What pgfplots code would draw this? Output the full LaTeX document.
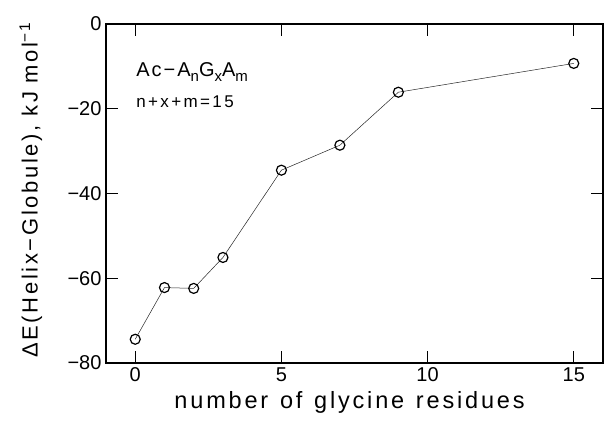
\documentclass[border=0pt]{standalone}
\usepackage{fontspec}
\setmainfont{Liberation Sans}
\newfontfamily\spaced[LetterSpace=12]{Liberation Sans}
\newfontfamily\spacedb[LetterSpace=10]{Liberation Sans}
\newfontfamily\spacedc[LetterSpace=14]{Liberation Sans}
\newcommand{\sub}[1]{\raisebox{-0.22em}{\fontsize{15}{15}\selectfont #1}}
\usepackage{pgfplots}
\pgfplotsset{compat=1.18}
\begin{document}
\begin{tikzpicture}
\begin{axis}[
  scale only axis, width=497pt, height=339pt,
  xmin=-1, xmax=16, ymin=-80, ymax=0,
  xtick={0,5,10,15}, ytick={-80,-60,-40,-20,0},
  xticklabels={0,5,10,15},
  yticklabels={−80,−60,−40,−20,0},
  tick align=inside, major tick length=12pt,
  axis line style={line width=1.6pt},
  every tick/.style={line width=1.2pt, black},
  tick label style={font=\fontsize{20}{20}\selectfont},
  xticklabel style={yshift=-1pt},
  yticklabel style={xshift=-1pt},
  /pgf/number format/assume math mode=true,
  xlabel={\spaced\fontsize{23.5}{23.5}\selectfont number\hspace{0.5em}of\hspace{0.5em}glycine\hspace{0.5em}residues},
  ylabel={\spaced\fontsize{22}{22}\selectfont ΔE(Helix−Globule),\hspace{0.4em}kJ\hspace{0.4em}mol\textsuperscript{−1}},
  xlabel style={at={(axis description cs:0.49,-0.115)}, anchor=center},
  ylabel style={at={(axis description cs:-0.151,0.51)}, anchor=center, rotate=0},
]
\addplot[black!85, line width=0.5pt, mark=o, mark size=5pt,
  mark options={line width=1.2pt, black}] coordinates {
  (0,-74.4) (1,-62.2) (2,-62.4) (3,-55.1) (5,-34.5) (7,-28.6) (9,-16.1) (15,-9.3)
};
\node[anchor=base west, inner sep=0pt, font=\spacedb\fontsize{20}{20}\selectfont] at (axis cs:0.03,-12.5)
  {Ac−A\sub{n}G\sub{x}A\sub{m}};
\node[anchor=base west, inner sep=0pt, font=\spacedc\fontsize{17}{17}\selectfont] at (axis cs:0.03,-19.8)
  {n+x+m=15};
\end{axis}
\pgfresetboundingbox
\path ([shift={(-106pt,-59pt)}]current axis.south west) rectangle ([shift={(1pt,24pt)}]current axis.north east);
\end{tikzpicture}
\end{document}
